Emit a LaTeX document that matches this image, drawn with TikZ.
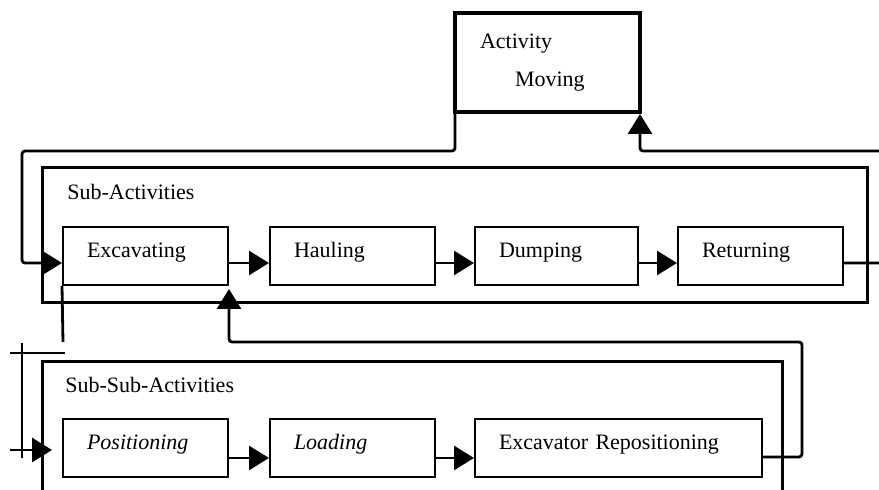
\documentclass[tikz,border=0pt]{standalone}
\usepackage{fontspec}
\setmainfont{Liberation Serif}
\usetikzlibrary{arrows.meta}
\tikzset{%
  stagebox/.style={draw, line width=1pt, rectangle, minimum height=29pt, inner xsep=12pt, align=left, text height=7.5pt, text depth=6pt, font=\fontsize{11pt}{13.2pt}\selectfont},%
  groupframe/.style={draw, line width=1.5pt, rectangle, inner sep=0pt},%
  grouplabel/.style={anchor=base west, inner sep=0pt, font=\fontsize{11pt}{13.2pt}\selectfont},%
  flow/.style={line width=1.4pt, rounded corners=1.5pt, -{Triangle[length=10pt,width=12pt]}},%
  wire/.style={line width=1.4pt, rounded corners=1.5pt},%
  tick/.style={line width=1pt},%
}

\begin{document}
\begin{tikzpicture}[x=0.5pt, y=-0.5pt]%
\useasboundingbox (0,0) rectangle (879,490);%
\clip (0,0) rectangle (879,490);%
% top level activity
\node[draw, line width=2pt, rectangle, minimum width=92.5pt, minimum height=49.5pt, inner xsep=12.5pt, text width=67.5pt, align=left, font=\fontsize{11pt}{13.2pt}\selectfont] (act) at (547.5, 62.5) {Activity\\[5.8pt]\hspace*{17.5pt}Moving};%
% group frames
\node[groupframe, minimum width=412.5pt, minimum height=67.5pt] (subact) at (454.5, 235.5) {};%
\node[grouplabel] (subactlbl) at (67, 200) {Sub-Activities};%
\node[groupframe, minimum width=370pt, minimum height=84pt] (subsub) at (412, 446) {};%
\node[grouplabel] (subsublbl) at (65, 393) {Sub-Sub-Activities};%
% sub-activities
\node[stagebox, text width=58.5pt] (exc) at (145.5, 256) {Excavating};%
\node[stagebox, text width=58.5pt] (hau) at (352.5, 256) {Hauling};%
\node[stagebox, text width=57.5pt] (dum) at (556.5, 256) {Dumping};%
\node[stagebox, text width=58.5pt] (ret) at (760.5, 256) {Returning};%
% sub-sub-activities
\node[stagebox, text width=58.5pt] (pos) at (145.5, 448) {\textit{Positioning}};%
\node[stagebox, text width=58.5pt] (loa) at (352.5, 448) {\textit{Loading}};%
\node[stagebox, text width=119.5pt] (exrep) at (618.5, 448) {Excavator Repositioning};%
% helper points
\coordinate (feedleft) at (22, 151);%
\coordinate (feedright) at (890, 151);%
\coordinate (reploop) at (802, 342);%
\coordinate (excdrop) at (63, 342);%
\coordinate (tickA) at (10, 353);%
\coordinate (tickB) at (65, 353);%
\coordinate (tickC) at (22, 343);%
\coordinate (tickD) at (22, 458);%
\coordinate (posin) at (10, 450);%
% connectors
\draw[flow] ([xshift=1pt]act.south west) |- (feedleft) |- ([yshift=-3.5pt]exc.west);%
\draw[flow] ([yshift=-3.5pt]ret.east) -| (feedright) -| ([xshift=-1pt]act.south east);%
\foreach \a/\b in {exc/hau, hau/dum, dum/ret}%
  \draw[flow] ([yshift=-3.5pt]\a.east) -- ([yshift=-3.5pt]\b.west);%
\foreach \a/\b in {pos/loa, loa/exrep}%
  \draw[flow] ([yshift=-5pt]\a.east) -- ([yshift=-5pt]\b.west);%
\draw[flow] ([yshift=-4.5pt]exrep.east) -| (reploop) -| ([yshift=-1.5pt]exc.south east);%
\draw[wire] (exc.south west) -- (excdrop);%
\draw[tick] (tickA) -- (tickB);%
\draw[tick] (tickC) -- (tickD);%
\draw[flow] (posin) -- ([xshift=-5pt, yshift=-1pt]pos.west);%
\end{tikzpicture}
\end{document}
